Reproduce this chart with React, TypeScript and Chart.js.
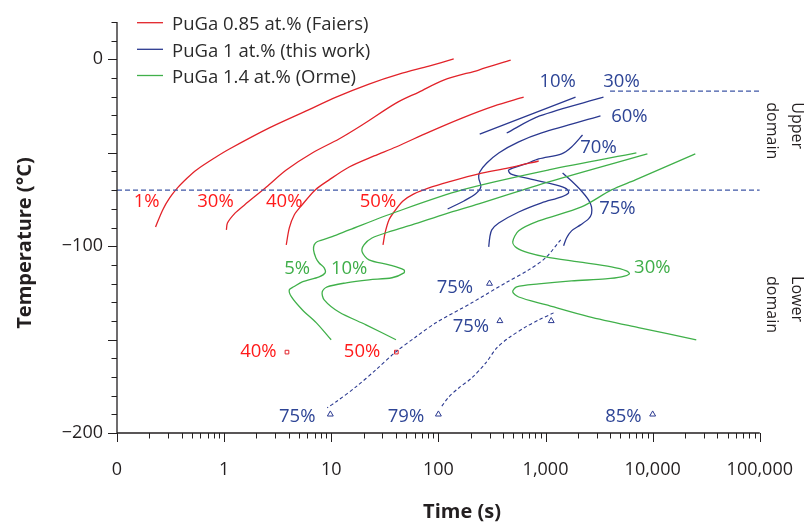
import { useEffect, useRef } from "react";
import { Chart, registerables } from "chart.js";

Chart.register(...registerables);

type Pt = [number, number]; // [time (s), temperature (°C)]

// ---- PuGa 0.85 at.% (Faiers) ----
const faiers1: Pt[] = [[0.229, -89.7], [0.267, -80.6], [0.31, -74.2], [0.367, -68.8], [0.455, -63.4], [0.552, -59.2], [0.813, -52.8], [1.12, -48.0], [2.64, -36.7], [5.84, -27.6], [11.1, -20.2], [22.5, -13.2], [42.9, -7.9], [81.6, -3.6], [139, 0.2]];
const faiers30: Pt[] = [[1.05, -91.3], [1.074, -87.6], [1.27, -82.2], [1.55, -77.9], [2.48, -68.3], [3.8, -59.2], [6.64, -50.1], [11.8, -42.6], [19.4, -35.1], [40.2, -23.4], [65.8, -17.5], [112, -11.1], [238, -5.7], [473, -0.4]];
const faiers40: Pt[] = [[3.8, -99.3], [4.06, -90.2], [4.51, -83.3], [5.25, -78.4], [7.08, -69.9], [9.56, -64.5], [14.7, -57.6], [25.1, -51.7], [40.2, -46.9], [81.6, -38.9], [166, -31.4], [329, -25.0], [625, -20.2]];
const faiers50: Pt[] = [[30.4, -99.3], [31.8, -92.9], [34.6, -85.9], [38.5, -81.7], [46.7, -75.8], [59.1, -72.0], [81.6, -68.8], [125, -65.6], [238, -61.3], [453, -58.1], [863, -54.4]];
const faiersPoints: Pt[] = [[3.86, -156.7], [40.5, -156.7]];

// ---- PuGa 1 at.% (this work) ----
const work10: Pt[] = [[243, -40.0], [1906, -20.2]];
const work30: Pt[] = [[434, -39.4], [881, -30.3], [3475, -20.2]];
const work60: Pt[] = [[122, -80.1], [173, -75.8], [223, -72.0], [249, -68.3], [238, -63.5], [243, -60.3], [283, -55.5], [366, -50.1], [562, -44.2], [920, -39.4], [3258, -30.3]];
const work70: Pt[] = [[2215, -40.5], [1750, -46.9], [1413, -50.6], [863, -53.3], [653, -56.0], [453, -59.2], [473, -61.3], [653, -63.5], [1242, -67.2], [1571, -69.3], [1641, -71.5], [1413, -73.6], [920, -76.8], [562, -81.7], [366, -87.6], [315, -91.3], [302, -95.1], [295, -100.4]];
const work75: Pt[] = [[1443, -60.8], [1750, -65.1], [2123, -69.9], [2519, -75.2], [2687, -79.0], [2687, -82.7], [2519, -85.4], [2123, -88.6], [1750, -91.8], [1571, -95.6], [1475, -99.8]];
const work75Low: Pt[] = [[1383, -96.6], [1002, -106.2], [696, -112.7], [425, -119.6], [205, -130.3], [94.8, -141.0], [61.8, -148.5], [40.2, -156.5], [26.2, -166.1], [17.1, -175.2], [11.1, -183.3], [9.16, -186.5]];
const work79Low: Pt[] = [[1189, -135.7], [863, -139.5], [653, -143.2], [453, -149.1], [351, -154.4], [277, -162.5], [205, -170.5], [155, -175.9], [125, -180.7], [105, -186.5]];
const workPoints: Pt[] = [[9.8, -190], [100, -190], [10000, -190], [300, -120], [375, -140], [1130, -140]];

// ---- PuGa 1.4 at.% (Orme) ----
const orme5: Pt[] = [[9.98, -150.1], [7.23, -140.9], [5.36, -134.0], [4.24, -127.0], [4.06, -123.3], [4.51, -121.6], [5.36, -119.1], [7.71, -116.4], [8.77, -114.3], [8.59, -111.6], [7.71, -109.0], [7.19, -106.3], [6.83, -102.0], [6.93, -99.3], [7.43, -97.5], [10.2, -94.9], [14.7, -91.3], [40.2, -81.7], [166, -69.9], [1069, -59.2], [7048, -50.1]];
const orme10: Pt[] = [[40.2, -150.1], [21.1, -142.1], [11.8, -135.2], [8.59, -128.7], [8.23, -124.5], [9.16, -121.8], [13.8, -119.6], [22.5, -118.0], [36.9, -116.9], [47.7, -114.3], [47.7, -112.7], [34.6, -110.0], [22.5, -107.3], [19.4, -103.0], [20.2, -99.3], [24.0, -95.6], [36.9, -91.8], [56.6, -88.6], [117, -82.7], [238, -77.4], [1069, -65.6], [8930, -50.6]];
const orme30: Pt[] = [[25000, -50.6], [6900, -64.5], [4126, -69.9], [2168, -79.0], [863, -86.5], [562, -91.8], [494, -97.7], [538, -100.9], [696, -103.6], [1002, -105.7], [2033, -108.4], [4126, -111.1], [5690, -113.2], [6067, -114.8], [5117, -116.4], [3628, -117.5], [1750, -118.6], [863, -120.2], [538, -121.8], [494, -124.5], [562, -127.2], [1002, -131.3], [2519, -137.7], [7362, -143.6], [25530, -150.1]];

// Domain boundaries
const lowerBoundary: Pt[] = [[0.1, -70], [100000, -70]];
const upperBoundary: Pt[] = [[4000, -17], [100000, -17]];

// Curve annotations: [text, time, temperature]
const faiersLabels: [string, number, number][] = [["1%", 0.189, -75.8], ["30%", 0.83, -75.8], ["40%", 3.64, -75.8], ["50%", 27.3, -75.8], ["40%", 2.09, -156], ["50%", 19.4, -156]];
const workLabels: [string, number, number][] = [["10%", 1297, -11.1], ["30%", 5117, -11.1], ["60%", 6067, -29.8], ["70%", 3119, -46.9], ["75%", 4688, -79.5], ["75%", 142.5, -121.8], ["75%", 201, -142.6], ["75%", 4.81, -190.8], ["79%", 49.8, -190.8], ["85%", 5335, -190.8]];
const ormeLabels: [string, number, number][] = [["5%", 4.81, -111.6], ["10%", 14.7, -111.6], ["30%", 9930, -111.1]];

// Axes
const timeMajor = [0.1, 1, 10, 100, 1000, 10000, 100000];
const timeMajorLabels = ["0", "1", "10", "100", "1,000", "10,000", "100,000"];
const tempMin = -200;
const tempMax = 20;

const seriesNames = ["PuGa 0.85 at.% (Faiers)", "PuGa 1 at.% (this work)", "PuGa 1.4 at.% (Orme)"];

const RED = "#e2232a";
const RED_TEXT = "#ff1a1a";
const BLUE = "#2b3990";
const BLUE_TEXT = "#2e4596";
const GREEN = "#40b04a";
const GREEN_TEXT = "#3fae49";
const DASH_BLUE = "#3f57a6";
const INK = "#231f20";
const FONT = '"Open Sans", "DejaVu Sans", sans-serif';

const toXY = (pts: Pt[]) => pts.map(([x, y]) => ({ x, y }));

const minorTicks: number[] = [];
for (let i = 0; i < timeMajor.length - 1; i++) {
  for (let m = 2; m <= 9; m++) minorTicks.push(timeMajor[i] * m);
}
const allTimeTicks = [...timeMajor, ...minorTicks].sort((a, b) => a - b);
const isMajorTime = (v: number) => timeMajor.some((d) => Math.abs(d - v) / d < 1e-9);

function curve(data: Pt[], color: string, extra: Record<string, unknown> = {}) {
  return {
    data: toXY(data),
    showLine: true,
    borderColor: color,
    backgroundColor: color,
    borderWidth: 1.3,
    pointRadius: 0,
    tension: 0.3,
    ...extra,
  };
}

const overlay = {
  id: "phaseOverlay",
  afterDraw(chart: any) {
    const { ctx, chartArea } = chart;
    const xs = chart.scales.x;
    const ys = chart.scales.y;
    const L = chartArea.left;
    const B = chartArea.bottom;
    const T = ys.getPixelForValue(tempMax);
    const R = chartArea.right;
    ctx.save();

    // axis lines
    ctx.strokeStyle = INK;
    ctx.lineWidth = 1.3;
    ctx.beginPath();
    ctx.moveTo(L, T);
    ctx.lineTo(L, B);
    ctx.lineTo(R, B);
    ctx.stroke();

    // time ticks
    ctx.lineWidth = 1;
    ctx.beginPath();
    for (const v of allTimeTicks) {
      const px = Math.round(xs.getPixelForValue(v)) + 0.5;
      ctx.moveTo(px, B);
      ctx.lineTo(px, B + (isMajorTime(v) ? 9 : 5.5));
    }
    // temperature ticks
    for (let v = tempMin; v <= tempMax; v += 10) {
      const py = Math.round(ys.getPixelForValue(v)) + 0.5;
      ctx.moveTo(L, py);
      ctx.lineTo(L - (v % 50 === 0 ? 9 : 5.5), py);
    }
    ctx.stroke();

    // curve annotations
    ctx.font = `18.5px ${FONT}`;
    ctx.textAlign = "center";
    ctx.textBaseline = "alphabetic";
    const drawLabels = (list: [string, number, number][], color: string) => {
      ctx.fillStyle = color;
      for (const [txt, t, temp] of list) {
        ctx.fillText(txt, xs.getPixelForValue(t), ys.getPixelForValue(temp) + 6.5);
      }
    };
    drawLabels(faiersLabels, RED_TEXT);
    drawLabels(workLabels, BLUE_TEXT);
    drawLabels(ormeLabels, GREEN_TEXT);

    // legend
    const colors = [RED, BLUE, GREEN];
    const legendY = [22.7, 49.3, 75.5];
    ctx.textAlign = "left";
    seriesNames.forEach((name, i) => {
      ctx.strokeStyle = colors[i];
      ctx.lineWidth = 1.3;
      ctx.beginPath();
      ctx.moveTo(L + 20, legendY[i]);
      ctx.lineTo(L + 46, legendY[i]);
      ctx.stroke();
      ctx.fillStyle = "#2b2b2b";
      ctx.fillText(name, L + 55, legendY[i] + 7.5);
    });

    // domain captions
    ctx.font = `16px ${FONT}`;
    ctx.fillStyle = INK;
    const vertical = (lines: string[], temp: number) => {
      const y0 = ys.getPixelForValue(temp);
      lines.forEach((ln, i) => {
        ctx.save();
        ctx.translate(R + 32 - i * 25, y0);
        ctx.rotate(Math.PI / 2);
        ctx.textAlign = "left";
        ctx.fillText(ln, 0, 0);
        ctx.restore();
      });
    };
    vertical(["Upper", "domain"], -23);
    vertical(["Lower", "domain"], -116);

    // axis titles
    ctx.font = `bold 20px ${FONT}`;
    ctx.fillStyle = INK;
    ctx.textAlign = "center";
    ctx.textBaseline = "middle";
    ctx.fillText("Time (s)", 462, 512);
    ctx.save();
    ctx.translate(25, 243);
    ctx.rotate(-Math.PI / 2);
    ctx.fillText("Temperature (\u00b0C)", 0, 0);
    ctx.restore();

    ctx.restore();
  },
};

export default function App() {
  const ref = useRef<HTMLCanvasElement>(null);

  useEffect(() => {
    document.body.style.margin = "0";
    const dashed = { borderDash: [3.5, 2.5], borderWidth: 1.1 };
    const chart = new Chart(ref.current as HTMLCanvasElement, {
      type: "scatter",
      data: {
        datasets: [
          curve(lowerBoundary, DASH_BLUE, { borderDash: [5, 3], borderWidth: 1.2, tension: 0 }),
          curve(upperBoundary, DASH_BLUE, { borderDash: [5, 3], borderWidth: 1.2, tension: 0 }),
          curve(orme5, GREEN),
          curve(orme10, GREEN),
          curve(orme30, GREEN),
          curve(faiers1, RED),
          curve(faiers30, RED),
          curve(faiers40, RED),
          curve(faiers50, RED),
          curve(work10, BLUE),
          curve(work30, BLUE),
          curve(work60, BLUE),
          curve(work70, BLUE),
          curve(work75, BLUE),
          curve(work75Low, BLUE, dashed),
          curve(work79Low, BLUE, dashed),
          {
            data: toXY(faiersPoints),
            showLine: false,
            pointStyle: "rect",
            pointRadius: 2.6,
            borderWidth: 1,
            borderColor: RED,
            backgroundColor: "#ffffff",
          },
          {
            data: toXY(workPoints),
            showLine: false,
            pointStyle: "triangle",
            pointRadius: 3.4,
            borderWidth: 1,
            borderColor: BLUE,
            backgroundColor: "#ffffff",
          },
        ] as any,
      },
      options: {
        responsive: false,
        animation: false,
        devicePixelRatio: 1,
        layout: { padding: { top: 22, right: 48, left: 0, bottom: 0 } },
        plugins: { legend: { display: false }, tooltip: { enabled: false } },
        scales: {
          x: {
            type: "logarithmic",
            position: "bottom",
            min: 0.1,
            max: 100000,
            border: { display: false },
            grid: { display: true, drawOnChartArea: false, drawTicks: true, tickLength: 9, color: "rgba(0,0,0,0)" },
            afterBuildTicks: (s: any) => {
              s.ticks = allTimeTicks.map((v) => ({ value: v }));
            },
            afterFit: (s: any) => {
              s.height = 89;
            },
            ticks: {
              autoSkip: false,
              maxRotation: 0,
              minRotation: 0,
              padding: 17,
              color: INK,
              font: { family: FONT, size: 18 },
              callback: (v: any) => {
                const i = timeMajor.findIndex((d) => Math.abs(d - Number(v)) / d < 1e-9);
                return i >= 0 ? timeMajorLabels[i] : "";
              },
            },
          },
          y: {
            type: "linear",
            min: tempMin,
            max: tempMax,
            border: { display: false },
            grid: { display: true, drawOnChartArea: false, drawTicks: true, tickLength: 9, color: "rgba(0,0,0,0)" },
            afterFit: (s: any) => {
              s.width = 117;
            },
            ticks: {
              stepSize: 10,
              padding: 5,
              color: INK,
              font: { family: FONT, size: 18 },
              callback: (v: any) => {
                const n = Number(v);
                if (n % 50 !== 0 || n > 0) return "";
                return n < 0 ? "\u2212" + Math.abs(n) : "0";
              },
            },
          },
        },
      },
      plugins: [overlay],
    } as any);
    return () => chart.destroy();
  }, []);

  return (
    <div style={{ width: 810, height: 522 }}>
      <canvas ref={ref} width={810} height={522} style={{ display: "block" }} />
    </div>
  );
}
